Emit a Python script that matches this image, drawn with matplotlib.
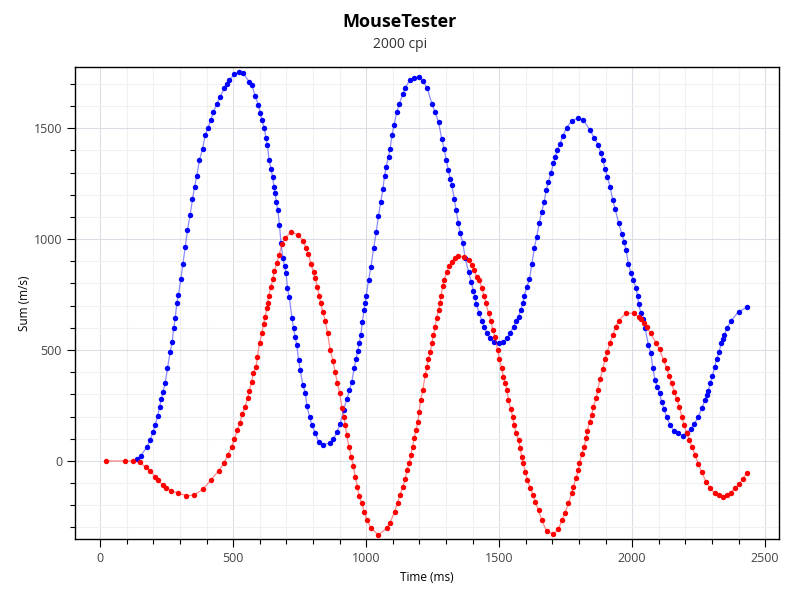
import matplotlib
matplotlib.use("Agg")
import matplotlib.pyplot as plt
from matplotlib.ticker import MultipleLocator

# ------------------------------------------------------------
# data (time in ms, value)
# ------------------------------------------------------------

blue_t = [140, 153, 175, 188, 198, 207, 216, 223, 229, 236, 244, 253, 263, 271, 276,
          282, 288, 294, 303, 311, 320, 328, 338, 347, 355, 363, 373, 385, 395, 405,
          416, 426, 439, 451, 466, 476, 486, 504, 520, 536, 561, 570, 583, 595, 602,
          608, 617, 623, 629, 635, 642, 648, 654, 658, 662, 668, 674, 680, 687, 693,
          699, 704, 711, 721, 727, 733, 739, 746, 752, 762, 771, 777, 787, 796, 808,
          821, 837, 865, 877, 890, 902, 915, 927, 937, 946, 955, 962, 968, 974, 980,
          986, 992, 996, 1000, 1009, 1018, 1028, 1038, 1046, 1055, 1063, 1069, 1075, 1084, 1090,
          1097, 1105, 1115, 1125, 1138, 1147, 1165, 1180, 1197, 1213, 1230, 1247, 1259, 1272, 1284,
          1293, 1301, 1309, 1316, 1322, 1331, 1338, 1347, 1353, 1364, 1372, 1385, 1395, 1403, 1410,
          1414, 1426, 1435, 1444, 1454, 1466, 1481, 1501, 1516, 1529, 1541, 1554, 1564, 1573, 1581,
          1589, 1594, 1604, 1614, 1623, 1632, 1641, 1651, 1660, 1669, 1677, 1685, 1694, 1704, 1711,
          1719, 1729, 1739, 1754, 1773, 1798, 1817, 1840, 1857, 1873, 1882, 1890, 1898, 1907, 1917,
          1927, 1936, 1949, 1961, 1970, 1977, 1986, 1995, 2005, 2015, 2021, 2024, 2033, 2040, 2049,
          2061, 2070, 2078, 2086, 2095, 2103, 2111, 2120, 2130, 2143, 2158, 2174, 2190, 2205, 2221,
          2234, 2249, 2262, 2274, 2281, 2287, 2293, 2302, 2310, 2318, 2327, 2335, 2341, 2347, 2356,
          2372, 2400, 2431]
blue_v = [9, 24, 62, 95, 131, 162, 203, 242, 278, 312, 350, 417, 492, 537, 598,
          643, 710, 748, 818, 890, 965, 1040, 1108, 1179, 1236, 1284, 1356, 1408, 1468, 1501,
          1539, 1574, 1611, 1641, 1679, 1701, 1716, 1743, 1752, 1749, 1709, 1694, 1644, 1604, 1569,
          1536, 1499, 1458, 1423, 1356, 1318, 1281, 1233, 1206, 1168, 1131, 1063, 981, 913, 878,
          848, 778, 737, 643, 598, 560, 523, 455, 410, 342, 308, 248, 200, 162, 128,
          87, 72, 82, 98, 132, 165, 230, 277, 320, 357, 420, 460, 495, 533, 568,
          628, 680, 710, 743, 815, 875, 958, 1033, 1104, 1168, 1228, 1284, 1326, 1371, 1408,
          1468, 1514, 1573, 1611, 1656, 1682, 1719, 1728, 1731, 1713, 1679, 1611, 1574, 1528, 1453,
          1408, 1356, 1311, 1273, 1243, 1183, 1131, 1071, 1028, 981, 913, 853, 808, 767, 737,
          707, 665, 632, 605, 575, 553, 537, 530, 537, 553, 575, 605, 632, 650, 680,
          710, 743, 785, 818, 890, 958, 1010, 1073, 1123, 1168, 1221, 1258, 1296, 1341, 1371,
          1401, 1431, 1464, 1503, 1533, 1546, 1536, 1494, 1458, 1423, 1390, 1356, 1318, 1281, 1236,
          1176, 1138, 1073, 1025, 988, 950, 890, 848, 815, 778, 743, 707, 668, 638, 598,
          523, 488, 417, 365, 332, 305, 267, 233, 197, 162, 135, 125, 114, 128, 143,
          167, 200, 237, 275, 297, 317, 350, 383, 422, 458, 492, 530, 548, 568, 598,
          632, 673, 692]

red_t = [23, 94, 125, 148, 173, 188, 207, 216, 236, 248, 266, 294, 323, 351, 386,
         416, 445, 466, 479, 495, 504, 516, 526, 534, 545, 554, 561, 569, 576, 586,
         591, 599, 608, 614, 620, 627, 630, 633, 642, 649, 655, 664, 673, 683, 695,
         717, 745, 764, 774, 783, 793, 802, 809, 817, 824, 829, 837, 846, 855, 865,
         875, 883, 892, 900, 909, 917, 921, 927, 935, 944, 952, 959, 967, 974, 984,
         992, 1003, 1018, 1046, 1078, 1090, 1107, 1118, 1128, 1138, 1147, 1153, 1162, 1168, 1175,
         1180, 1188, 1194, 1199, 1205, 1213, 1222, 1228, 1234, 1241, 1247, 1253, 1259, 1265, 1272,
         1278, 1281, 1288, 1293, 1303, 1313, 1322, 1335, 1347, 1368, 1385, 1397, 1406, 1416, 1426,
         1435, 1444, 1451, 1460, 1469, 1476, 1485, 1494, 1501, 1510, 1516, 1523, 1529, 1535, 1544,
         1551, 1556, 1564, 1573, 1579, 1585, 1591, 1598, 1606, 1617, 1627, 1635, 1648, 1660, 1679,
         1704, 1723, 1736, 1748, 1760, 1773, 1779, 1789, 1798, 1802, 1811, 1820, 1827, 1832, 1840,
         1848, 1854, 1865, 1870, 1880, 1890, 1898, 1907, 1917, 1927, 1939, 1949, 1977, 2007, 2024,
         2033, 2043, 2055, 2070, 2090, 2103, 2118, 2130, 2140, 2149, 2158, 2168, 2178, 2187, 2195,
         2205, 2215, 2224, 2237, 2249, 2262, 2278, 2293, 2312, 2325, 2341, 2356, 2371, 2387, 2403,
         2416, 2431]
red_v = [0, 0, 0, -7, -29, -44, -71, -86, -108, -120, -134, -146, -156, -155, -128,
         -86, -45, -10, 27, 65, 98, 140, 173, 212, 245, 282, 317, 357, 395, 425,
         470, 530, 575, 617, 650, 688, 710, 743, 785, 818, 857, 893, 928, 977, 1003,
         1033, 1018, 992, 958, 932, 887, 853, 823, 782, 743, 710, 673, 632, 575, 500,
         452, 402, 350, 308, 240, 200, 160, 118, 65, 20, -25, -71, -116, -160, -191,
         -228, -266, -303, -333, -303, -278, -228, -188, -153, -116, -82, -41, -11, 27, 65,
         102, 140, 177, 222, 275, 320, 387, 425, 458, 492, 530, 568, 605, 643, 680,
         713, 743, 788, 815, 853, 878, 898, 913, 923, 920, 905, 883, 860, 830, 815,
         778, 743, 710, 665, 632, 590, 557, 500, 458, 417, 380, 350, 320, 275, 233,
         200, 162, 125, 95, 57, 20, -11, -48, -86, -123, -153, -183, -221, -266, -318,
         -329, -308, -266, -233, -191, -146, -116, -78, -41, -11, 32, 65, 102, 137, 177,
         207, 245, 282, 320, 370, 415, 460, 492, 533, 568, 605, 632, 667, 665, 650,
         638, 623, 602, 575, 530, 503, 455, 417, 383, 350, 312, 278, 242, 200, 162,
         128, 95, 65, 27, -14, -52, -93, -123, -146, -153, -161, -153, -143, -123, -104,
         -82, -55]

x_ticks = [0, 500, 1000, 1500, 2000, 2500]
y_ticks = [0, 500, 1000, 1500]

# ------------------------------------------------------------
# plot
# ------------------------------------------------------------

plt.rcParams["font.family"] = ["Open Sans", "DejaVu Sans"]

fig = plt.figure(figsize=(8, 6), dpi=100)
ax = fig.add_axes([0.094, 0.102, 0.880, 0.786])

for t, v, c, z in [(blue_t, blue_v, "#0000ff", 3), (red_t, red_v, "#ff0000", 5)]:
    ax.plot(t, v, color=c, lw=0.9, alpha=0.45, zorder=z)
    ax.plot(t, v, color=c, ls="none", marker="o", markersize=3.9,
            markeredgewidth=0, zorder=z + 1)

ax.set_xlim(-94, 2553)
ax.set_ylim(-351, 1775)

ax.set_xticks(x_ticks)
ax.set_yticks(y_ticks)
ax.xaxis.set_minor_locator(MultipleLocator(100))
ax.yaxis.set_minor_locator(MultipleLocator(100))

ax.grid(which="major", color="#dcdce4", lw=0.8, zorder=0)
ax.grid(which="minor", color="#f0f0f3", lw=0.8, zorder=0)
ax.set_axisbelow(True)

ax.tick_params(which="major", direction="out", length=6, width=0.8,
               labelsize=9, labelcolor="#444444", color="black")
ax.tick_params(which="minor", direction="out", length=3.5, width=0.8, color="black")
for s in ax.spines.values():
    s.set_linewidth(1.0)
    s.set_color("black")

ax.set_xlabel("Time (ms)", fontsize=8.5, labelpad=4)
ax.set_ylabel("Sum (m/s)", fontsize=8.5, labelpad=2)

fig.text(0.5, 0.963, "MouseTester", ha="center", va="center",
         fontsize=13, fontweight="bold", color="black")
fig.text(0.5, 0.925, "2000 cpi", ha="center", va="center",
         fontsize=10, color="#333333")

plt.savefig("out.png", dpi=100)
plt.close(fig)
